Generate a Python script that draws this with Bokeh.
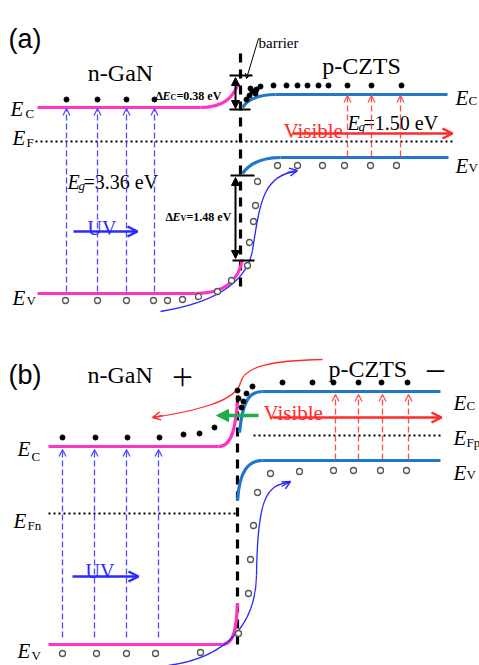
from bokeh.plotting import figure
from bokeh.models import Range1d, Arrow, OpenHead, NormalHead, ColumnDataSource
from bokeh.core.properties import value
from bokeh.embed import file_html
from bokeh.resources import INLINE

SERIF = "Liberation Serif"
SANS = "Liberation Sans"
PINK = "#ff33c4"
BAND_BLUE = "#1f78c8"
THIN_BLUE = "#2a2aff"
DASH_BLUE = "#4d4dff"
RED = "#ff2a2a"
GREEN = "#1fae4b"
HOLE = "#555555"

# ---------------- schematic data (diagram units = picture pixels) ----------------
# flat band segments: x0, x1, y
flat_pink_x0 = [37, 37, 48, 48]
flat_pink_x1 = [200, 195, 218, 222]
flat_pink_y = [107, 293, 446, 644]
flat_blue_x0 = [275, 280, 262, 262]
flat_blue_x1 = [447, 448, 440, 440]
flat_blue_y = [94, 157, 391, 460]

# band bending (bezier): start, end, control points
bend_pink = dict(x0=[200, 195, 218, 222], y0=[107, 293, 446, 644],
                 x1=[238, 242, 237, 237], y1=[83, 259, 402, 603],
                 cx0=[222, 225, 232, 234], cy0=[107, 293, 446, 644],
                 cx1=[232, 238, 235, 236], cy1=[98, 280, 425, 625])
bend_blue = dict(x0=[242, 242, 239, 237], y0=[107, 173, 432, 500],
                 x1=[275, 280, 262, 262], y1=[94, 157, 391, 460],
                 cx0=[248, 250, 242, 239], cy0=[98, 162, 402, 470],
                 cx1=[258, 262, 248, 248], cy1=[94, 157, 391, 460])

# Fermi levels (dotted)
fermi_x0 = [35, 48, 253]
fermi_x1 = [452, 237, 440]
fermi_y = [141, 513, 435]

# interface (dashed vertical)
iface_x = [240, 237]
iface_y0 = [53, 395]
iface_y1 = [290, 645]

# electrons (filled dots)
elec_x = [66, 97, 126, 154, 273, 286, 297, 307, 318, 328, 347, 371, 401,
          246, 249, 252, 256, 260, 250, 255,
          62, 95, 127, 159, 183, 199, 214, 282, 312, 333, 358, 381, 407,
          237, 238, 243, 246, 252, 241]
elec_y = [99, 99, 99, 99, 85, 85, 85, 85, 85, 85, 85, 85, 85,
          99, 95, 91, 89, 86, 88, 93,
          437, 437, 437, 437, 434, 433, 427, 382, 382, 382, 382, 382, 382,
          390, 398, 401, 393, 386, 407]

# holes (open circles)
hole_x = [65, 97, 126, 153, 167, 182, 198, 217, 231, 247, 249, 253, 255, 257, 277, 297, 322, 344, 370, 396,
          62, 96, 126, 155, 200, 238, 248, 250, 253, 257, 270, 299, 333, 353, 380, 406]
hole_y = [300, 300, 300, 300, 300, 299, 296, 291, 280, 265, 242, 221, 205, 181, 165, 165, 165, 165, 165, 165,
          653, 653, 653, 653, 652, 633, 593, 559, 525, 492, 473, 471, 470, 470, 470, 470]

# photo-excitation (dashed arrows)
uv_x = [66, 97, 126, 154, 62, 94, 126, 158]
uv_y0 = [291, 291, 291, 291, 637, 637, 637, 637]
uv_y1 = [108, 108, 108, 108, 449, 449, 449, 449]
vis_x = [347, 371, 400, 335, 358, 382, 408]
vis_y0 = [156, 156, 156, 459, 459, 459, 459]
vis_y1 = [95, 95, 95, 394, 394, 394, 394]

# light arrows (solid)
light_x0 = [73, 72, 292, 272]
light_x1 = [137, 138, 452, 441]
light_y = [231, 576, 133, 417]
light_col = [THIN_BLUE, THIN_BLUE, RED, RED]

# band offsets
off_x = [235, 235]
off_y0 = [77, 177]
off_y1 = [108, 258]
tick_x0 = [229, 229, 230, 232]
tick_x1 = [252, 250, 254, 254]
tick_y = [75, 109, 175, 260]

# carrier transfer curves (bezier)
curve_blue = dict(x0=[160, 252, 168, 256], y0=[311, 250, 665, 575],
                  x1=[252, 296, 256, 289], y1=[250, 171, 575, 482],
                  cx0=[215, 259, 225, 257], cy0=[302, 205, 657, 500],
                  cx1=[246, 262, 255, 265], cy1=[282, 174, 625, 484])
curve_red = dict(x0=[322, 240], y0=[359, 382], x1=[240, 153], y1=[382, 417],
                 cx0=[270, 236], cy0=[360, 402], cx1=[244, 190], cy1=[366, 411])

# ---------------- figure ----------------
p = figure(width=479, height=665, x_range=Range1d(0, 479), y_range=Range1d(665, 0),
           x_axis_type=None, y_axis_type=None, min_border=0,
           output_backend="svg", toolbar_location=None)
p.outline_line_color = None
p.background_fill_color = "white"
p.border_fill_color = "white"

# Fermi levels
p.segment(x0=fermi_x0, x1=fermi_x1, y0=fermi_y, y1=fermi_y,
          line_color="black", line_width=2, line_dash="2 3")

# dashed photo-excitation arrows
p.add_layout(Arrow(source=ColumnDataSource(dict(x=uv_x, y0=uv_y0, y1=uv_y1)),
                   x_start="x", y_start="y0", x_end="x", y_end="y1",
                   line_color=DASH_BLUE, line_width=1.3, line_dash="6 3",
                   end=OpenHead(size=7, line_color=DASH_BLUE, line_width=1.3)))
p.add_layout(Arrow(source=ColumnDataSource(dict(x=vis_x, y0=vis_y0, y1=vis_y1)),
                   x_start="x", y_start="y0", x_end="x", y_end="y1",
                   line_color="#ff4d4d", line_width=1.3, line_dash="6 3",
                   end=OpenHead(size=7, line_color="#ff4d4d", line_width=1.3)))

# interfaces
p.segment(x0=iface_x, x1=iface_x, y0=iface_y0, y1=iface_y1,
          line_color="black", line_width=3.2, line_dash="9 7")

# bands
p.segment(x0=flat_pink_x0, x1=flat_pink_x1, y0=flat_pink_y, y1=flat_pink_y,
          line_color=PINK, line_width=3.2)
p.bezier(line_color=PINK, line_width=3.2, **bend_pink)
p.segment(x0=flat_blue_x0, x1=flat_blue_x1, y0=flat_blue_y, y1=flat_blue_y,
          line_color=BAND_BLUE, line_width=3.2)
p.bezier(line_color=BAND_BLUE, line_width=3.2, **bend_blue)

# transfer curves
p.bezier(line_color=THIN_BLUE, line_width=1.3, **curve_blue)
p.bezier(line_color=RED, line_width=1.3, **curve_red)
p.add_layout(Arrow(x_start=287, y_start=172, x_end=297, y_end=170, line_color=THIN_BLUE, line_width=1.3,
                   end=OpenHead(size=8, line_color=THIN_BLUE, line_width=1.5)))
p.add_layout(Arrow(x_start=281, y_start=486, x_end=290, y_end=481, line_color=THIN_BLUE, line_width=1.3,
                   end=OpenHead(size=8, line_color=THIN_BLUE, line_width=1.5)))
p.add_layout(Arrow(x_start=162, y_start=415, x_end=152, y_end=417, line_color=RED, line_width=1.3,
                   end=OpenHead(size=8, line_color=RED, line_width=1.5)))

# light arrows
for x0, x1, y, c in zip(light_x0, light_x1, light_y, light_col):
    p.add_layout(Arrow(x_start=x0, y_start=y, x_end=x1, y_end=y, line_color=c, line_width=2.5,
                       end=OpenHead(size=10, line_color=c, line_width=2.5)))
# green (electron drift) arrow
p.add_layout(Arrow(x_start=258, y_start=415, x_end=216, y_end=415, line_color=GREEN, line_width=3.5,
                   end=NormalHead(size=12, fill_color=GREEN, line_color=GREEN)))

# band offset double arrows
for x, y0, y1 in zip(off_x, off_y0, off_y1):
    p.add_layout(Arrow(x_start=x, y_start=y0, x_end=x, y_end=y1, line_color="black", line_width=2,
                       start=NormalHead(size=8, fill_color="black", line_color="black"),
                       end=NormalHead(size=8, fill_color="black", line_color="black")))
p.segment(x0=tick_x0, x1=tick_x1, y0=tick_y, y1=tick_y, line_color="black", line_width=2)
# barrier pointer
p.add_layout(Arrow(x_start=258, y_start=38, x_end=246, y_end=78, line_color="black", line_width=1,
                   end=OpenHead(size=5, line_color="black", line_width=1)))

# carriers
p.scatter(x=elec_x, y=elec_y, size=5, color="black")
p.scatter(x=hole_x, y=hole_y, size=6, fill_color="white", line_color=HOLE, line_width=1.3)

# ---------------- texts ----------------
def txt(x, y, s, size, font=SERIF, color="black", style="normal", align="left", baseline="alphabetic"):
    p.text(x=[x], y=[y], text=[s], text_font=value(font), text_font_size=value(f"{size}px"),
           text_color=color, text_font_style=style, text_align=align, text_baseline=baseline)

# panel labels and materials
txt(8, 38, "(a)", 27, font=SANS)
txt(8, 374, "(b)", 27, font=SANS)
txt(120, 72, "n-GaN", 24, align="center")
txt(361, 65, "p-CZTS", 24, align="center")
txt(87, 374, "n-GaN", 24)
txt(170, 375, "＋", 24, font="Noto Sans CJK SC")
txt(328, 368, "p-CZTS", 24)
txt(423, 369, "－", 24, font="Noto Sans CJK SC")
txt(258, 42, "barrier", 15)

# band-edge labels: E with subscript
e_x = [10, 12, 12, 455, 455, 17, 13, 17, 453, 453, 453]
e_y = [108, 137, 297, 97, 165, 448, 520, 650, 402, 437, 472]
sub_t = ["C", "F", "V", "C", "V", "C", "Fn", "V", "C", "Fp", "V"]
sub_dx = [15, 14, 14, 13, 13, 14, 14, 14, 13, 13, 13]
sub_dy = [5, 5, 3, 3, 2, 8, 5, 5, 3, 5, 2]
for x, y, s, dx, dy in zip(e_x, e_y, sub_t, sub_dx, sub_dy):
    txt(x, y, "E", 21, style="italic")
    txt(x + dx, y + dy, s, 13)

# band gaps
for x, y, s in [(67, 181, "=3.36 eV"), (347, 122, "=1.50 eV")]:
    txt(x, y, "E", 20, style="italic")
    txt(x + 11, y + 4, "g", 13, style="italic")
    txt(x + 16, y, s, 20)

# band offsets
for x, y, sub, s in [(155, 95, "C", "=0.38 eV"), (165, 216, "V", "=1.48 eV")]:
    txt(x, y, "Δ", 12, style="bold")
    txt(x + 7, y, "E", 12, style="bold italic")
    txt(x + 15, y + 2, sub, 8, style="bold")
    txt(x + 21, y, s, 12, style="bold")

# light labels
txt(87, 227, "UV", 20, color=THIN_BLUE)
txt(85, 570, "UV", 20, color=THIN_BLUE)
txt(283, 130, "Visible", 21, color=RED)
txt(263, 412, "Visible", 21, color=RED)

open("out.html", "w").write(file_html(p, INLINE))
